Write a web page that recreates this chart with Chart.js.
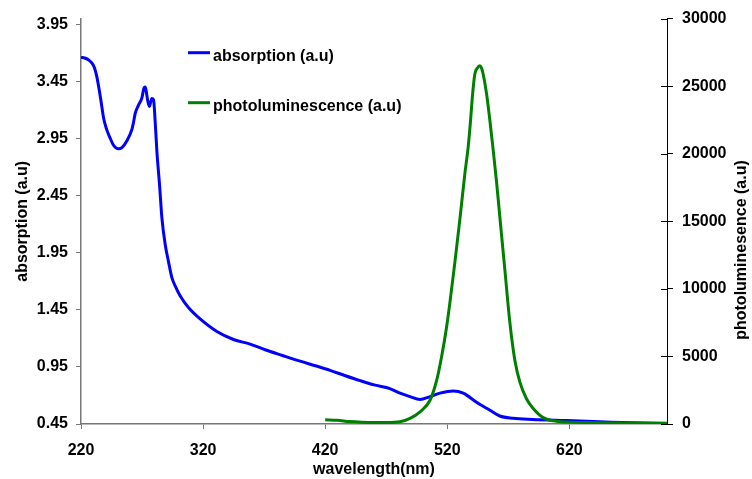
<!DOCTYPE html>
<html>
<head>
<meta charset="utf-8">
<script src="https://cdn.jsdelivr.net/npm/chart.js@4/dist/chart.umd.min.js"></script>
<style>
  html, body { margin: 0; padding: 0; background: #fff; }
</style>
</head>
<body>
<canvas id="chart" width="752" height="479"></canvas>
<script>
// wavelength (nm) / absorption (a.u)
const absWavelength = [220, 223, 226, 229, 231, 233, 235, 236.5, 238.5, 241, 244, 246.7, 250.8, 253.5,
  257.6, 261.7, 263, 264.4, 267, 270, 271.5, 272.6, 273.5, 274.5, 276, 278, 279.4, 280.8, 282.2,
  284.3, 286.3, 289, 291.7, 294.5, 298, 301.3, 308, 317.6, 331.3, 344.9, 358.5, 370.8, 385, 399.5,
  412, 424, 436, 448.6, 461, 473, 481.3, 489.5, 497.7, 505.9, 514, 525, 533.1, 544, 555, 563, 574,
  590, 617.6, 645, 672, 700];
const absValues = [3.66, 3.655, 3.64, 3.61, 3.57, 3.49, 3.37, 3.27, 3.13, 3.03, 2.95, 2.89, 2.86, 2.87,
  2.93, 3.03, 3.09, 3.17, 3.24, 3.31, 3.39, 3.40, 3.36, 3.29, 3.23, 3.30, 3.29, 3.09, 2.83,
  2.55, 2.25, 2.02, 1.87, 1.73, 1.64, 1.57, 1.47, 1.37, 1.26, 1.19, 1.15, 1.10, 1.05, 1.00,
  0.96, 0.92, 0.875, 0.83, 0.79, 0.76, 0.72, 0.69, 0.665, 0.69, 0.72, 0.74, 0.72, 0.64, 0.57, 0.52, 0.50,
  0.49, 0.48, 0.47, 0.46, 0.455];

// wavelength (nm) / photoluminescence (a.u)
const plWavelength = [420, 430, 440, 450, 460, 470, 481.3, 489.5, 497.7, 505.9, 511.3, 515.4, 519.5,
  522.2, 526.3, 530.4, 534.5, 537.2, 539.1, 540.8, 542.6, 544.7, 546.7, 548, 549.4, 552.2, 554.9,
  557.6, 560.4, 563.1, 567.2, 571.3, 575.4, 579.5, 585, 590.4, 598.6, 606.8, 617.7, 645, 700];
const plValues = [320, 270, 180, 130, 110, 110, 170, 415, 900, 1756, 3220, 5000, 7200,
  9000, 12000, 15200, 18585, 20540, 22480, 24440, 25900, 26350, 26510, 26350, 25900, 24440, 22480,
  20300, 17900, 15300, 11400, 7500, 4700, 3100, 1850, 1150, 470, 240, 146, 95, 50];

const xTicks = [220, 320, 420, 520, 620];
const absTicks = [0.45, 0.95, 1.45, 1.95, 2.45, 2.95, 3.45, 3.95];
const plTicks = [0, 5000, 10000, 15000, 20000, 25000, 30000];

const font = { family: "'Liberation Sans', Arial, sans-serif", size: 16, weight: 'bold' };
const fontCss = "bold 16px 'Liberation Sans', Arial, sans-serif";

// legend inside the plot, cross ticks and rotated right title
const extras = {
  id: 'extras',
  afterDraw(chart) {
    const c = chart.ctx;
    const y2 = chart.scales.y2;
    c.save();
    c.strokeStyle = '#000';
    c.lineWidth = 1;
    plTicks.forEach(v => {
      const py = Math.round(y2.getPixelForValue(v)) + 0.5;
      c.beginPath();
      c.moveTo(y2.left - 6, py);
      c.lineTo(y2.left, py);
      c.stroke();
    });

    const items = [
      { ds: chart.data.datasets[0], y: 52.7, base: 60.7 },
      { ds: chart.data.datasets[1], y: 102.7, base: 110.7 }
    ];
    c.font = fontCss;
    c.fillStyle = '#000';
    c.textBaseline = 'alphabetic';
    items.forEach(it => {
      c.strokeStyle = it.ds.borderColor;
      c.lineWidth = 3;
      c.beginPath();
      c.moveTo(188, it.y);
      c.lineTo(210, it.y);
      c.stroke();
      c.fillText(it.ds.label, 213, it.base);
    });

    c.translate(742, 250);
    c.rotate(-Math.PI / 2);
    c.textAlign = 'center';
    c.textBaseline = 'middle';
    c.fillText('photoluminesence (a.u)', 0, 0);
    c.restore();
  }
};

new Chart(document.getElementById('chart'), {
  type: 'line',
  data: {
    datasets: [
      {
        label: 'absorption (a.u)',
        data: absWavelength.map((x, i) => ({ x, y: absValues[i] })),
        borderColor: '#0000ff',
        borderWidth: 3,
        pointRadius: 0,
        cubicInterpolationMode: 'monotone',
        yAxisID: 'y',
        order: 2
      },
      {
        label: 'photoluminescence (a.u)',
        data: plWavelength.map((x, i) => ({ x, y: plValues[i] })),
        borderColor: '#008000',
        borderWidth: 3,
        pointRadius: 0,
        cubicInterpolationMode: 'monotone',
        yAxisID: 'y2',
        order: 1
      }
    ]
  },
  options: {
    responsive: false,
    animation: false,
    layout: { padding: { top: 14, left: 0, right: 0, bottom: 0 } },
    plugins: { legend: { display: false }, tooltip: { enabled: false } },
    scales: {
      x: {
        type: 'linear',
        min: 220,
        max: 700,
        afterBuildTicks: s => { s.ticks = xTicks.map(v => ({ value: v })); },
        afterFit: s => { s.height = 55; },
        grid: { drawOnChartArea: false, tickLength: 5, color: '#777' },
        border: { color: '#777', width: 1.5 },
        ticks: { font, color: '#000', padding: 12, maxRotation: 0 },
        title: { display: true, text: 'wavelength(nm)', font, color: '#000', padding: { top: 3, bottom: 0 } }
      },
      y: {
        position: 'left',
        min: 0.45,
        max: 4.0,
        afterBuildTicks: s => { s.ticks = absTicks.map(v => ({ value: v })); },
        afterFit: s => { s.width = 81; },
        grid: { drawOnChartArea: false, tickLength: 5, color: '#777' },
        border: { color: '#777', width: 1.5 },
        ticks: { font, color: '#000', padding: 8, callback: v => v.toFixed(2) },
        title: { display: true, text: 'absorption (a.u)', font, color: '#000', padding: { top: 13, bottom: 0 } }
      },
      y2: {
        position: 'right',
        min: 0,
        max: 30000,
        afterBuildTicks: s => { s.ticks = plTicks.map(v => ({ value: v })); },
        afterFit: s => { s.width = 85; },
        grid: { drawOnChartArea: false, tickLength: 6, color: '#000' },
        border: { color: '#000', width: 1 },
        ticks: { font, color: '#000', padding: 9, callback: v => String(v) }
      }
    }
  },
  plugins: [extras]
});
</script>
</body>
</html>
